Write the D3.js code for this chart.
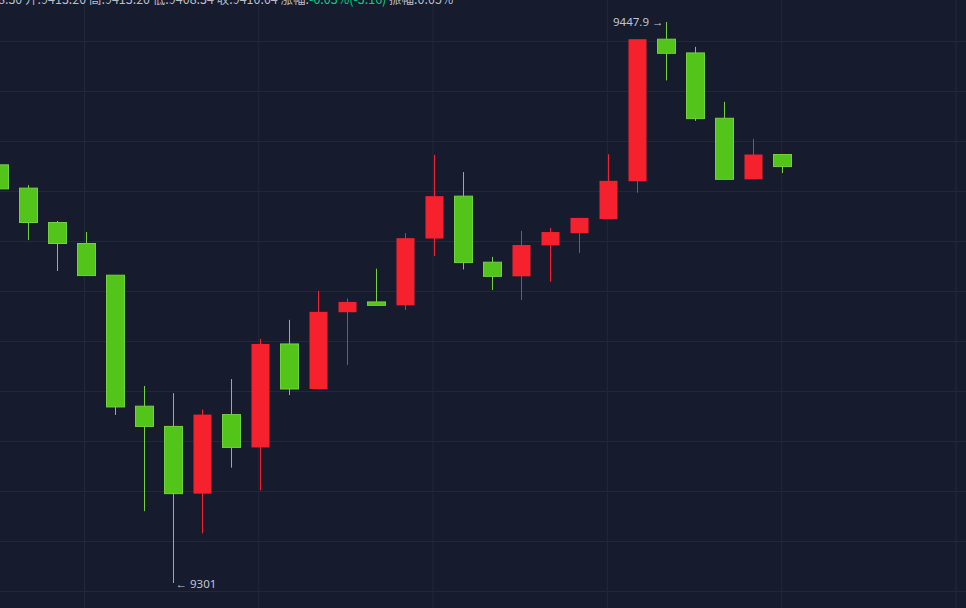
<!DOCTYPE html>
<html><head><meta charset="utf-8">
<script src="https://cdn.jsdelivr.net/npm/d3@7"></script>
<style>body{margin:0;background:#171b2e;overflow:hidden}</style>
</head><body><svg id="c" width="966" height="608"></svg>
<script>
// OHLC values, one entry per candle
const opens  = [9410.5,9404.4,9395.4,9389.9,9381.6,9347.3,9342.0,9324.4,9345.1,9336.5,9363.6,9351.8,9371.9,9374.6,9373.7,9391.2,9402.3,9385.0,9381.3,9389.4,9392.6,9396.3,9406.2,9443.4,9439.8,9422.7,9406.7,9413.2]
const closes = [9404.2,9395.4,9389.9,9381.5,9347.1,9342.0,9324.4,9345.1,9336.5,9363.6,9351.8,9372.0,9374.6,9373.7,9391.3,9402.3,9384.9,9381.3,9389.5,9392.9,9396.6,9406.3,9443.4,9439.7,9422.6,9406.7,9413.2,9410.04]
const highs  = [9411.0,9405.2,9395.8,9392.9,9381.6,9352.6,9350.7,9346.4,9354.4,9364.9,9369.9,9377.5,9375.5,9383.3,9392.6,9413.1,9408.6,9386.4,9393.2,9394.0,9396.6,9413.3,9443.4,9447.9,9441.4,9427.0,9417.3,9413.2]
const lows   = [9403.9,9390.8,9382.7,9381.4,9345.0,9319.8,9301.0,9314.0,9331.2,9325.3,9350.2,9351.8,9358.1,9373.7,9372.5,9386.6,9383.1,9377.7,9375.1,9379.9,9387.4,9396.3,9403.2,9432.6,9422.0,9406.7,9406.7,9408.34]
const header = [
  {t:'8.30 开:9413.20 高:9413.20 低:9408.34 收:9410.04 涨幅:', c:'#b7bdc6'},
  {t:'-0.03%(-3.16)', c:'#0ecb81'},
  {t:' 振幅:0.05%', c:'#b7bdc6'}
]

const up = '#f5222d', down = '#52c41a', downEdge = '#73d13d'
const svg = d3.select('#c')
const W = 966, H = 608

const x = d3.scaleLinear().domain([0, 1]).range([-1.5, 27.5])
const y = d3.scaleLinear().domain([9301, 9447.9]).range([583, 22])

// grid
const g = svg.append('g')
g.selectAll('line.h').data(d3.range(12)).join('line')
  .attr('x1', 0).attr('x2', W)
  .attr('y1', d => 41.5 + d * 50).attr('y2', d => 41.5 + d * 50)
  .attr('stroke', '#232839')
g.selectAll('line.v').data(d3.range(6)).join('line')
  .attr('y1', 0).attr('y2', H)
  .attr('x1', d => 84.5 + d * 174.3).attr('x2', d => 84.5 + d * 174.3)
  .attr('stroke', '#232839')

const data = opens.map((o, i) => ({i, o, c: closes[i], h: highs[i], l: lows[i]}))
const bw = 18
const cg = svg.append('g')
data.forEach(d => {
  const rise = d.c >= d.o
  const cx = Math.round(x(d.i)) + 0.5
  cg.append('line').attr('x1', cx).attr('x2', cx)
    .attr('y1', y(d.h)).attr('y2', y(d.l))
    .attr('stroke', rise ? up : downEdge).attr('stroke-width', 1)
  const top = y(Math.max(d.o, d.c)), bot = y(Math.min(d.o, d.c))
  cg.append('rect').attr('x', cx - bw / 2).attr('y', top)
    .attr('width', bw).attr('height', Math.max(2, bot - top))
    .attr('fill', rise ? up : down)
    .attr('stroke', rise ? 'none' : downEdge).attr('stroke-width', 1)
})

// max/min labels
const iMax = d3.maxIndex(highs), iMin = d3.minIndex(lows)
svg.append('text').attr('x', x(iMax) - 2).attr('y', y(highs[iMax]) + 4)
  .attr('text-anchor', 'end').attr('fill', '#c0c5d0')
  .style('font', '11.5px "Noto Sans", sans-serif').text(highs[iMax] + ' →')
svg.append('text').attr('x', x(iMin) + 3).attr('y', y(lows[iMin]) + 5)
  .attr('fill', '#c0c5d0')
  .style('font', '11.5px "Noto Sans", sans-serif').text('← ' + lows[iMin])

// header (cut off at the top as in the picture)
const ht = svg.append('text').attr('x', -2).attr('y', 4)
  .style('font', '12.5px "Noto Sans CJK SC", sans-serif')
ht.selectAll('tspan').data(header).join('tspan')
  .attr('fill', d => d.c).text(d => d.t)
</script></body></html>
